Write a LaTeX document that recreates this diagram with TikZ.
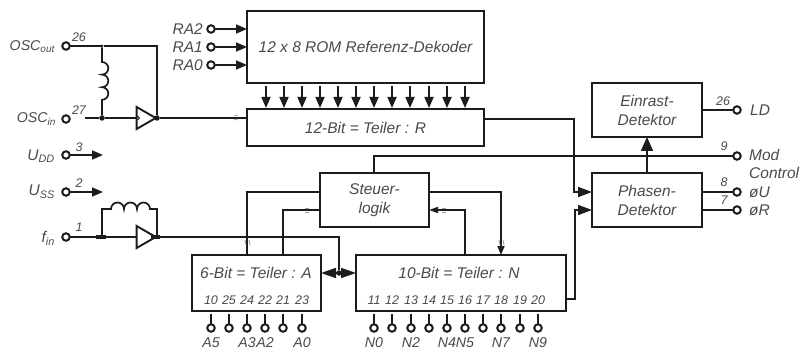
\documentclass[tikz,border=0pt]{standalone}
\usepackage{fontspec}
\setmainfont{Liberation Sans}
\usetikzlibrary{arrows.meta,shapes.geometric,calc}
\definecolor{ink}{HTML}{1C1C1C}
\definecolor{txt}{HTML}{4A4A4A}
\tikzset{
  blockbox/.style={draw=ink,line width=2.4pt,fill=white,inner sep=0pt,outer sep=0pt,align=center,font=\fontsize{15.5}{19}\selectfont\itshape,text=txt},
  wire/.style={draw=ink,line width=1.7pt},
  arrowwire/.style={wire,-{Triangle[length=11pt,width=9pt]}},
  pin/.style={circle,draw=ink,line width=2pt,fill=white,minimum size=7.5pt,inner sep=0pt,outer sep=0pt},
  sig/.style={text=txt,inner sep=0pt,font=\fontsize{15.5}{16}\selectfont\itshape},
  sigsmall/.style={text=txt,inner sep=0pt,font=\fontsize{14.2}{16}\selectfont\itshape},
  num/.style={text=txt,inner sep=0pt,font=\fontsize{12.5}{12}\selectfont\itshape},
  buf/.style={isosceles triangle,isosceles triangle apex angle=60,draw=ink,line width=1.9pt,fill=white,minimum height=14pt,minimum width=22pt,inner sep=0pt,outer sep=0pt},
  dot/.style={circle,fill=ink,minimum size=5.5pt,inner sep=0pt,outer sep=0pt},
  tick/.style={draw=gray!80,line width=.8pt}
}
\begin{document}
\begin{tikzpicture}[x=1pt,y=-1pt]
\useasboundingbox (0,0) rectangle (801,350);
% blocks
\node[blockbox,minimum width=237pt,minimum height=72pt] (rom) at (365.5,47) {12 x 8 ROM Referenz-Dekoder};
\node[blockbox,minimum width=237pt,minimum height=37pt] (rdiv) at (365.5,127.5) {12-Bit = Teiler : R};
\node[blockbox,minimum width=110pt,minimum height=54pt] (lock) at (647,110) {Einrast-\\Detektor};
\node[blockbox,minimum width=110pt,minimum height=54pt] (phase) at (647,200) {Phasen-\\Detektor};
\node[blockbox,minimum width=109pt,minimum height=54pt] (ctl) at (374.5,200) {Steuer-\\logik};
\node[blockbox,minimum width=129pt,minimum height=56pt,anchor=north west] (adiv) at (192,255) {};
\node[blockbox,minimum width=210pt,minimum height=56pt,anchor=north west] (ndiv) at (356,255) {};
\node[sig] (atext) at (256,273) {6-Bit = Teiler : A};
\node[sig] (ntext) at (459,273) {10-Bit = Teiler : N};
% ROM to R bus
\foreach \i/\x in {1/266,2/284,3/302,4/320,5/338,6/356,7/374,8/392,9/410,10/429,11/447,12/465}{
  \coordinate (rb\i) at (\x,86);
  \draw[arrowwire] (rb\i) -- (\x,108);
}
% RA inputs
\foreach \n/\y in {2/29,1/47,0/65}{
  \node[pin] (ra\n) at (211,\y) {};
  \node[sig,anchor=east] (ral\n) at (203,\y) {RA\n};
  \draw[arrowwire] (ra\n) -- (rom.west |- ra\n);
}
% oscillator
\node[pin] (oscout) at (66,46) {};
\node[pin] (oscin) at (66,119) {};
\node[sigsmall,anchor=east] (loscout) at (55,47) {OSC\textsubscript{out}};
\node[sigsmall,anchor=east] (loscin) at (56,119) {OSC\textsubscript{in}};
\node[num] (n26) at (79,37) {26};
\node[num] (n27) at (79,110) {27};
\coordinate (osca) at (85,118);
\node[dot] (j1) at (102,118) {};
\node[dot,minimum size=3pt] (j2) at (102,46) {};
\node[dot] (j3) at (157,118) {};
\node[buf] (b1) at (143,118) {};
\draw[wire] (oscout) -- (j2) -- (157,46) -- (j3);
\draw[wire] (osca) -- (j1) -- (b1.west);
\draw[wire] (b1.east) -- (j3) -- (rdiv.west |- j3);
\draw[wire] (j2) -- (102,62) arc[start angle=-90,end angle=90,radius=6.3] arc[start angle=-90,end angle=90,radius=6.3] arc[start angle=-90,end angle=90,radius=6.3] -- (j1);
\node[circle,draw=ink,line width=.9pt,fill=white,minimum size=3pt,inner sep=0pt] (b1c) at (138,118) {};
% supply
\node[pin] (udd) at (66,155) {};
\node[pin] (uss) at (66,192) {};
\coordinate (uddto) at (103,155);
\coordinate (ussto) at (103,192);
\draw[arrowwire] (udd) -- (uddto);
\draw[arrowwire] (uss) -- (ussto);
\node[sig,anchor=east] (ludd) at (55,156) {U\textsubscript{DD}};
\node[sig,anchor=east] (luss) at (55,192) {U\textsubscript{SS}};
\node[num] (n3) at (79,147) {3};
\node[num] (n2) at (79,183) {2};
% fin
\node[pin] (fin) at (66,237) {};
\node[sig,anchor=east] (lfin) at (55,238) {f\textsubscript{in}};
\node[num] (n1) at (79,227) {1};
\coordinate (j4) at (102,237);
\coordinate (j5) at (157,237);
\coordinate (fbus) at (339,237);
\node[dot] (j6) at (339,273) {};
\node[buf] (b2) at (143,237) {};
\draw[wire] (fin) -- (j4) -- (b2.west);
\draw[wire] (b2.east) -- (j5) -- (fbus) -- (j6);
\draw[wire,line width=3.5pt] (96,237) -- (106,237) (151,237) -- (160,237);
\draw[wire] (j4) -- (102,209) -- (111,209) arc[start angle=180,end angle=360,radius=6.5] arc[start angle=180,end angle=360,radius=6.5] arc[start angle=180,end angle=360,radius=6.5] -- (157,209) -- (j5);
% A - N link
\draw[wire,{Triangle[length=15pt,width=10pt]}-{Triangle[length=15pt,width=10pt]}] (adiv.east |- j6) -- (ndiv.west |- j6);
% control
\coordinate (ca1) at (247,192);
\coordinate (ca2) at (283,210);
\coordinate (cn1) at (501,192);
\coordinate (cn2) at (465,210);
\draw[wire] (ctl.west |- ca1) -- (ca1) -- (ca1 |- adiv.north);
\draw[wire] (ctl.west |- ca2) -- (ca2) -- (ca2 |- adiv.north);
\draw[wire,-{Triangle[length=9pt,width=7pt]}] (ctl.east |- cn1) -- (cn1) -- (cn1 |- ndiv.north);
\draw[wire,{Triangle[length=9pt,width=6pt]}-] (ctl.east |- cn2) -- (cn2) -- (cn2 |- ndiv.north);
% bus slashes
\foreach \x/\y in {234/116,234/120}{\draw[tick] (\x,\y) -- (\x+4,\y-1);}
\foreach \x in {245,249,499,503}{\draw[tick] (\x,240) -- (\x+1,245);}
\foreach \x/\y in {307/208,307/212,444/208,444/212}{\draw[tick] (\x-2,\y) -- (\x+2,\y);}
% R, N to phase
\coordinate (rr) at (574,119);
\coordinate (pa) at (574,192);
\coordinate (nn) at (575,299);
\coordinate (pb) at (575,210);
\draw[wire,-{Triangle[length=14pt,width=10pt]}] (rdiv.east |- rr) -- (rr) -- (pa) -- (phase.west |- pa);
\draw[wire,-{Triangle[length=14pt,width=10pt]}] (ndiv.east |- nn) -- (nn) -- (pb) -- (phase.west |- pb);
\draw[wire,-{Triangle[length=14pt,width=12pt]}] (phase.north) -- (lock.south);
% outputs
\node[pin] (ld) at (737,110) {};
\node[pin] (mod) at (737,156) {};
\node[pin] (ou) at (737,192) {};
\node[pin] (or) at (737,210) {};
\coordinate (mstart) at (374,156);
\draw[wire] (ctl.north -| mstart) -- (mstart) -- (mod);
\draw[wire] (lock.east |- ld) -- (ld);
\draw[wire] (phase.east |- ou) -- (ou);
\draw[wire] (phase.east |- or) -- (or);
\node[num] (n26b) at (723,101) {26};
\node[num] (n9) at (724,146) {9};
\node[num] (n8) at (724,182) {8};
\node[num] (n7) at (724,200) {7};
\node[sig,anchor=west] (lld) at (750,110) {LD};
\node[sig,anchor=west,align=left,font=\fontsize{15.5}{18}\selectfont\itshape] (lmod) at (749,164) {Mod\\Control};
\node[sig,anchor=west] (lou) at (749,192) {øU};
\node[sig,anchor=west] (lor) at (749,210) {øR};
% A pins
\foreach \x/\t/\l in {211/10/A5,229/25/,247/24/A3,265/22/A2,283/21/,302/23/A0}{
  \node[pin] (pa\t) at (\x,328) {};
  \node[num,anchor=base] (na\t) at (\x,304) {\t};
  \draw[wire] (\x,314) -- (pa\t);
  \node[sigsmall,anchor=base] (la\t) at (\x,347.5) {\l};
}
% N pins
\foreach \x/\t/\l in {374/11/N0,392/12/,411/13/N2,429/14/,447/15/N4,465/16/N5,483/17/,501/18/N7,520/19/,538/20/N9}{
  \node[pin] (pn\t) at (\x,328) {};
  \node[num,anchor=base] (nn\t) at (\x,304) {\t};
  \draw[wire] (\x,314) -- (pn\t);
  \node[sigsmall,anchor=base] (ln\t) at (\x,347.5) {\l};
}
\end{tikzpicture}
\end{document}
